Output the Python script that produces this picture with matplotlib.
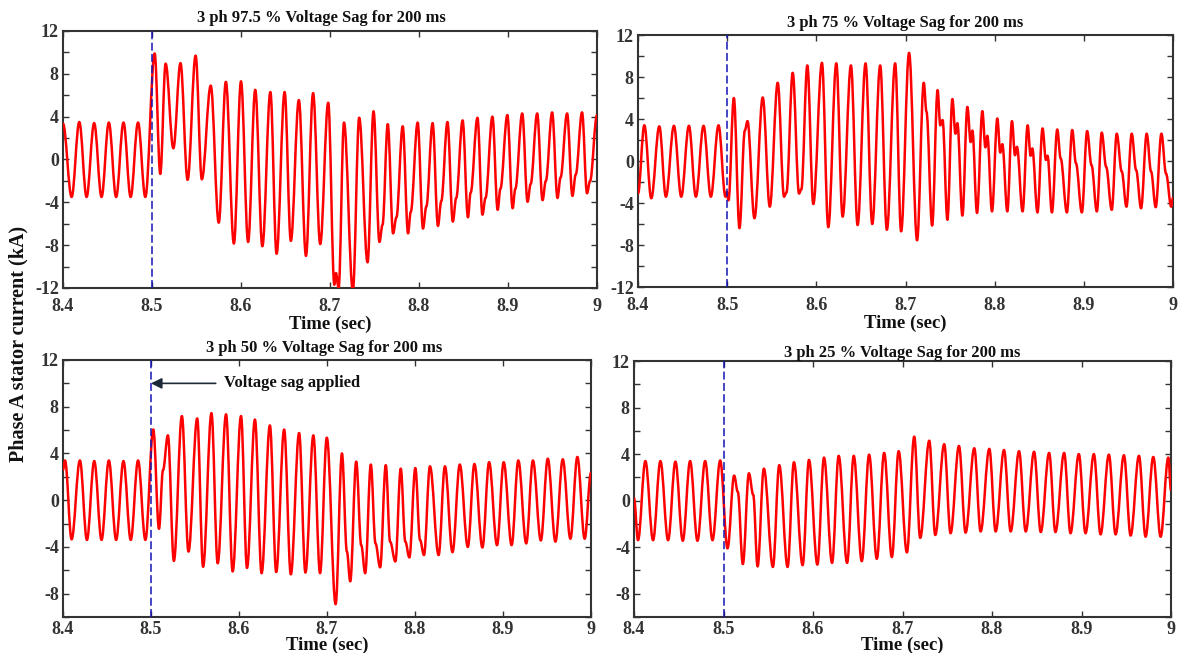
import matplotlib
matplotlib.use('Agg')
import matplotlib.pyplot as plt
from matplotlib.path import Path
from matplotlib.patches import PathPatch
from matplotlib.ticker import MultipleLocator

plt.rcParams['font.family'] = ['Liberation Serif', 'DejaVu Serif']
plt.rcParams['font.weight'] = 'bold'
plt.rcParams['axes.unicode_minus'] = False

# ---------------- data ----------------
titles = ['3 ph 97.5 % Voltage Sag for 200 ms', '3 ph 75 % Voltage Sag for 200 ms',
          '3 ph 50 % Voltage Sag for 200 ms', '3 ph 25 % Voltage Sag for 200 ms']
sag_start = 8.5
x_ticks = [8.4, 8.5, 8.6, 8.7, 8.8, 8.9, 9.0]
x_tick_labels = ['8.4', '8.5', '8.6', '8.7', '8.8', '8.9', '9']
ylims = [(-12, 12), (-12, 12), (-10, 12), (-10, 12)]

# extrema / knee points of the phase A stator current (kA)
t_975 = [8.400, 8.4097, 8.4183, 8.4265, 8.435, 8.4433, 8.4515, 8.4597, 8.468, 8.476, 8.4843, 8.4925,
         8.503, 8.5093, 8.5153, 8.524, 8.532, 8.540, 8.549, 8.556, 8.566, 8.575, 8.583, 8.592,
         8.600, 8.608, 8.616, 8.624, 8.633, 8.640, 8.649, 8.656, 8.665, 8.673, 8.681, 8.689,
         8.698, 8.7049, 8.7067, 8.7097, 8.7157, 8.7257, 8.7328, 8.7422, 8.7489, 8.7556, 8.759,
         8.7649, 8.7709, 8.7746, 8.7817, 8.7877, 8.7907, 8.7985, 8.8045, 8.8082, 8.8153, 8.8213,
         8.825, 8.832, 8.838, 8.8418, 8.849, 8.855, 8.858, 8.8657, 8.8713, 8.8747, 8.8825, 8.8884,
         8.8914, 8.8993, 8.9052, 8.9082, 8.916, 8.922, 8.9254, 8.9328, 8.9388, 8.9425, 8.9496,
         8.9556, 8.959, 8.9664, 8.9724, 8.9761, 8.9832, 8.9888, 8.9922, 9.0]
i_975 = [3.35, -3.5, 3.5, -3.5, 3.4, -3.5, 3.45, -3.5, 3.45, -3.5, 3.45, -3.5,
         9.9, -1.35, 8.95, 1.05, 9.0, -1.9, 9.7, -1.85, 6.9, -5.9, 7.25, -7.85,
         7.3, -7.7, 6.5, -8.1, 6.3, -8.8, 6.3, -7.6, 5.55, -9.0, 6.2, -7.9,
         5.3, -11.7, -10.6, -12.0, 3.45, -12.2, 3.9, -9.6, 4.5, -7.7, -6.1,
         3.3, -6.9, -5.4, 3.1, -6.9, -4.9, 3.45, -6.45, -4.4, 3.4, -6.2,
         -3.9, 3.5, -5.8, -3.6, 3.65, -5.4, -3.1, 3.9, -5.15, -3.6, 4.0, -4.7,
         -2.75, 4.15, -4.55, -2.75, 4.3, -3.95, -2.3, 4.3, -3.8, -2.0, 4.4,
         -3.6, -1.7, 4.3, -3.4, -1.4, 4.4, -3.15, -2.0, 4.15]

t_75 = [8.400, 8.4071, 8.4149, 8.4239, 8.4313, 8.4403, 8.4485, 8.4571, 8.4649, 8.4735, 8.4817,
        8.4903, 8.4981, 8.4996, 8.5015, 8.5075, 8.5138, 8.5198, 8.5228, 8.5306, 8.5399, 8.5478,
        8.5567, 8.5638, 8.5665, 8.5735, 8.5806, 8.5832, 8.5899, 8.5966, 8.6063, 8.6134, 8.6224,
        8.6295, 8.6388, 8.6463, 8.6552, 8.6627, 8.6716, 8.6791, 8.6884, 8.6951, 8.704, 8.713,
        8.7205, 8.7235, 8.7299, 8.736, 8.739, 8.7416, 8.747, 8.7526, 8.756, 8.7582, 8.7638,
        8.7694, 8.7731, 8.775, 8.7802, 8.7862, 8.7896, 8.7918, 8.797, 8.803, 8.8063, 8.8086,
        8.8142, 8.8194, 8.8228, 8.825, 8.8313, 8.837, 8.8403, 8.8422, 8.848, 8.8537, 8.8575,
        8.8593, 8.8642, 8.8702, 8.874, 8.881, 8.887, 8.8911, 8.8978, 8.9037, 8.9086, 8.9146,
        8.9201, 8.925, 8.9313, 8.9369, 8.9425, 8.9478, 8.9537, 8.9586, 8.9642, 8.9705, 8.9754,
        8.9806, 8.987, 8.9922, 8.998, 9.0]
i_75 = [-3.1, 3.4, -3.55, 3.3, -3.4, 3.35, -3.4, 3.35, -3.4, 3.35, -3.4,
        3.4, -3.4, -2.95, -3.75, 6.0, -6.4, 2.9, 3.8, -5.45, 6.05, -4.35,
        7.45, -3.4, -3.0, 8.4, -3.1, -2.7, 9.1, -4.1, 9.35, -6.3, 9.3,
        -5.3, 9.1, -6.1, 9.3, -6.0, 9.1, -6.55, 9.3, -6.7, 10.3, -7.55,
        7.45, 4.7, -6.15, 6.75, 3.4, 3.9, -5.6, 5.9, 2.6, 3.6, -5.2,
        5.15, 1.8, 2.9, -4.95, 4.75, 1.3, 2.4, -4.8, 4.05, 0.8, 1.6,
        -4.8, 3.8, 0.55, 1.35, -4.8, 3.4, 0.5, 1.2, -4.9, 3.1, 0.1,
        0.5, -4.9, 3.0, 0.25, -4.9, 2.95, -0.2, -4.9, 2.85, -0.4, -4.8,
        2.7, -0.55, -4.65, 2.6, -1.0, -4.35, 2.6, -0.85, -4.5, 2.6, -1.0,
        -4.4, 2.6, -1.2, -4.35, -3.5]

t_50 = [8.400, 8.4023, 8.4098, 8.4192, 8.4272, 8.4355, 8.4438, 8.4521, 8.4604, 8.4687, 8.477,
        8.4853, 8.4936, 8.5026, 8.5091, 8.5136, 8.5192, 8.526, 8.5351, 8.5426, 8.5525, 8.5592,
        8.5687, 8.5758, 8.5853, 8.5928, 8.6023, 8.6091, 8.6181, 8.6257, 8.6351, 8.6423, 8.6513,
        8.6589, 8.6683, 8.6755, 8.6845, 8.6921, 8.6998, 8.7098, 8.717, 8.7226, 8.7264, 8.7332,
        8.7389, 8.7434, 8.7498, 8.7551, 8.7604, 8.7668, 8.7717, 8.7777, 8.7838, 8.789, 8.7936,
        8.8004, 8.8057, 8.8102, 8.817, 8.8268, 8.834, 8.8426, 8.8509, 8.86, 8.8675, 8.8766,
        8.8842, 8.8932, 8.9008, 8.9098, 8.9174, 8.9264, 8.934, 8.943, 8.9509, 8.9596, 8.9679,
        8.9766, 8.9845, 8.9928, 9.0]
i_50 = [2.6, 3.4, -3.35, 3.4, -3.4, 3.35, -3.4, 3.4, -3.4, 3.35, -3.4,
        3.4, -3.4, 6.05, -2.45, 2.55, 5.55, -5.2, 7.2, -4.4, 7.0, -5.7,
        7.45, -5.4, 7.35, -6.1, 7.2, -5.8, 6.9, -6.25, 6.4, -6.15, 6.05,
        -6.35, 5.75, -6.2, 5.55, -6.25, 5.35, -8.9, 4.0, -4.4, -6.95, 3.3,
        -3.85, -6.25, 3.05, -3.7, -5.75, 3.0, -3.55, -5.25, 2.7, -3.55, -4.9,
        2.75, -3.4, -4.7, 2.9, -4.7, 2.9, -4.45, 3.05, -4.0, 3.1, -4.05,
        3.25, -3.85, 3.25, -3.85, 3.4, -3.7, 3.4, -3.45, 3.55, -3.55, 3.5,
        -3.3, 3.7, -3.3, 2.35]

t_25 = [8.400, 8.4045, 8.4127, 8.4213, 8.4295, 8.4381, 8.4463, 8.4545, 8.4627, 8.4709, 8.4795,
        8.4877, 8.4963, 8.5045, 8.5119, 8.516, 8.5216, 8.5284, 8.5332, 8.5381, 8.5451, 8.5552,
        8.5623, 8.5716, 8.5787, 8.5884, 8.5955, 8.6049, 8.6123, 8.6213, 8.6287, 8.6381, 8.6455,
        8.6545, 8.6627, 8.6713, 8.6795, 8.6881, 8.6957, 8.7049, 8.7131, 8.7198, 8.7299, 8.7366,
        8.7466, 8.7537, 8.7631, 8.7705, 8.7802, 8.7873, 8.797, 8.8041, 8.8134, 8.8209, 8.8302,
        8.8377, 8.847, 8.8545, 8.8638, 8.8709, 8.8806, 8.8877, 8.897, 8.9045, 8.9138, 8.9213,
        8.9306, 8.9381, 8.9474, 8.9549, 8.9642, 8.9716, 8.9802, 8.9884, 8.997, 9.0]
i_25 = [0.2, -3.4, 3.4, -3.4, 3.4, -3.4, 3.35, -3.45, 3.4, -3.45, 3.4,
        -3.4, 3.45, -4.1, 2.15, 0.75, -5.45, 2.35, 0.5, -5.65, 2.75, -5.7,
        3.05, -5.7, 3.3, -5.55, 3.5, -5.5, 3.7, -5.35, 3.85, -5.35, 3.85,
        -5.2, 3.95, -5.0, 4.1, -4.85, 4.25, -4.45, 5.5, -3.2, 5.15, -2.95,
        4.85, -2.8, 4.7, -2.75, 4.5, -2.65, 4.45, -2.65, 4.35, -2.65, 4.25,
        -2.65, 4.2, -2.7, 4.1, -2.7, 4.1, -2.8, 4.0, -2.8, 4.0, -2.9,
        3.95, -2.9, 3.9, -3.0, 3.85, -3.1, 3.75, -3.1, 3.7, 0.9]

series_t = [t_975, t_75, t_50, t_25]
series_i = [i_975, i_75, i_50, i_25]

# ---------------- layout ----------------
W, H = 1179, 653
boxes = [(63, 31, 597, 288), (638, 35, 1173, 287), (63, 360, 591, 617), (634, 361, 1171, 617)]
title_pads = [6.2, 5.5, 5.5, 1.5]
title_x = [0.483, 0.5, 0.495, 0.5]
xtick_pads = [7, 7, 3.2, 3.2]
xlabel_pads = [0.5, 0.5, -1.5, -1.5]


def smooth_path(t, v):
    """Smooth curve through the extrema: Bezier segments with flat tangents at each point."""
    verts = [(t[0], v[0])]
    codes = [Path.MOVETO]
    for k in range(1, len(t)):
        dt = t[k] - t[k - 1]
        verts += [(t[k - 1] + 0.364 * dt, v[k - 1]), (t[k] - 0.364 * dt, v[k]), (t[k], v[k])]
        codes += [Path.CURVE4] * 3
    return Path(verts, codes)


fig = plt.figure(figsize=(W / 100, H / 100), dpi=100)
axes = []
for n in range(4):
    x0, y0, x1, y1 = boxes[n]
    ax = fig.add_axes([x0 / W, 1 - y1 / H, (x1 - x0) / W, (y1 - y0) / H])
    axes.append(ax)
    ax.add_patch(PathPatch(smooth_path(series_t[n], series_i[n]), fill=False,
                           edgecolor='#ff0000', lw=1.8, joinstyle='round', capstyle='round',
                           zorder=3))
    ax.axvline(sag_start, color='#1414b4', lw=1.1, ls=(0, (5.2, 2.2)), zorder=4)
    ax.set_xlim(8.4, 9.0)
    ax.set_ylim(*ylims[n])
    ax.set_xticks(x_ticks)
    ax.set_xticklabels(x_tick_labels)
    ax.yaxis.set_major_locator(MultipleLocator(4))
    ax.yaxis.set_minor_locator(MultipleLocator(2))
    ax.tick_params(which='both', direction='in', top=True, right=True, length=4.5,
                   width=1.0, color='#333333')
    ax.tick_params(axis='both', which='major', labelsize=13, labelcolor='#333333')
    ax.tick_params(axis='x', pad=xtick_pads[n])
    ax.tick_params(axis='y', pad=3)
    for lab in ax.get_xticklabels() + ax.get_yticklabels():
        lab.set_fontweight('bold')
    for sp in ax.spines.values():
        sp.set_linewidth(1.5)
        sp.set_color('#333333')
    ax.set_title(titles[n], fontsize=11.9, fontweight='bold', pad=title_pads[n],
                 x=title_x[n], color='#111111')
    ax.set_xlabel('Time (sec)', fontsize=13.5, fontweight='bold', labelpad=xlabel_pads[n],
                  color='#111111')

axes[2].annotate('Voltage sag applied', xy=(8.5, 10), xytext=(8.583, 10),
                 fontsize=12, fontweight='bold', color='#111111', va='center', ha='left',
                 arrowprops=dict(arrowstyle='-|>', color='#1b2838', lw=1.2,
                                 mutation_scale=16, shrinkA=4, shrinkB=0))

fig.text(18 / W, 1 - 344 / H, 'Phase A stator current (kA)', rotation=90, ha='center',
         va='center', fontsize=14.5, fontweight='bold', color='#111111')

fig.savefig('out.png', dpi=100)
